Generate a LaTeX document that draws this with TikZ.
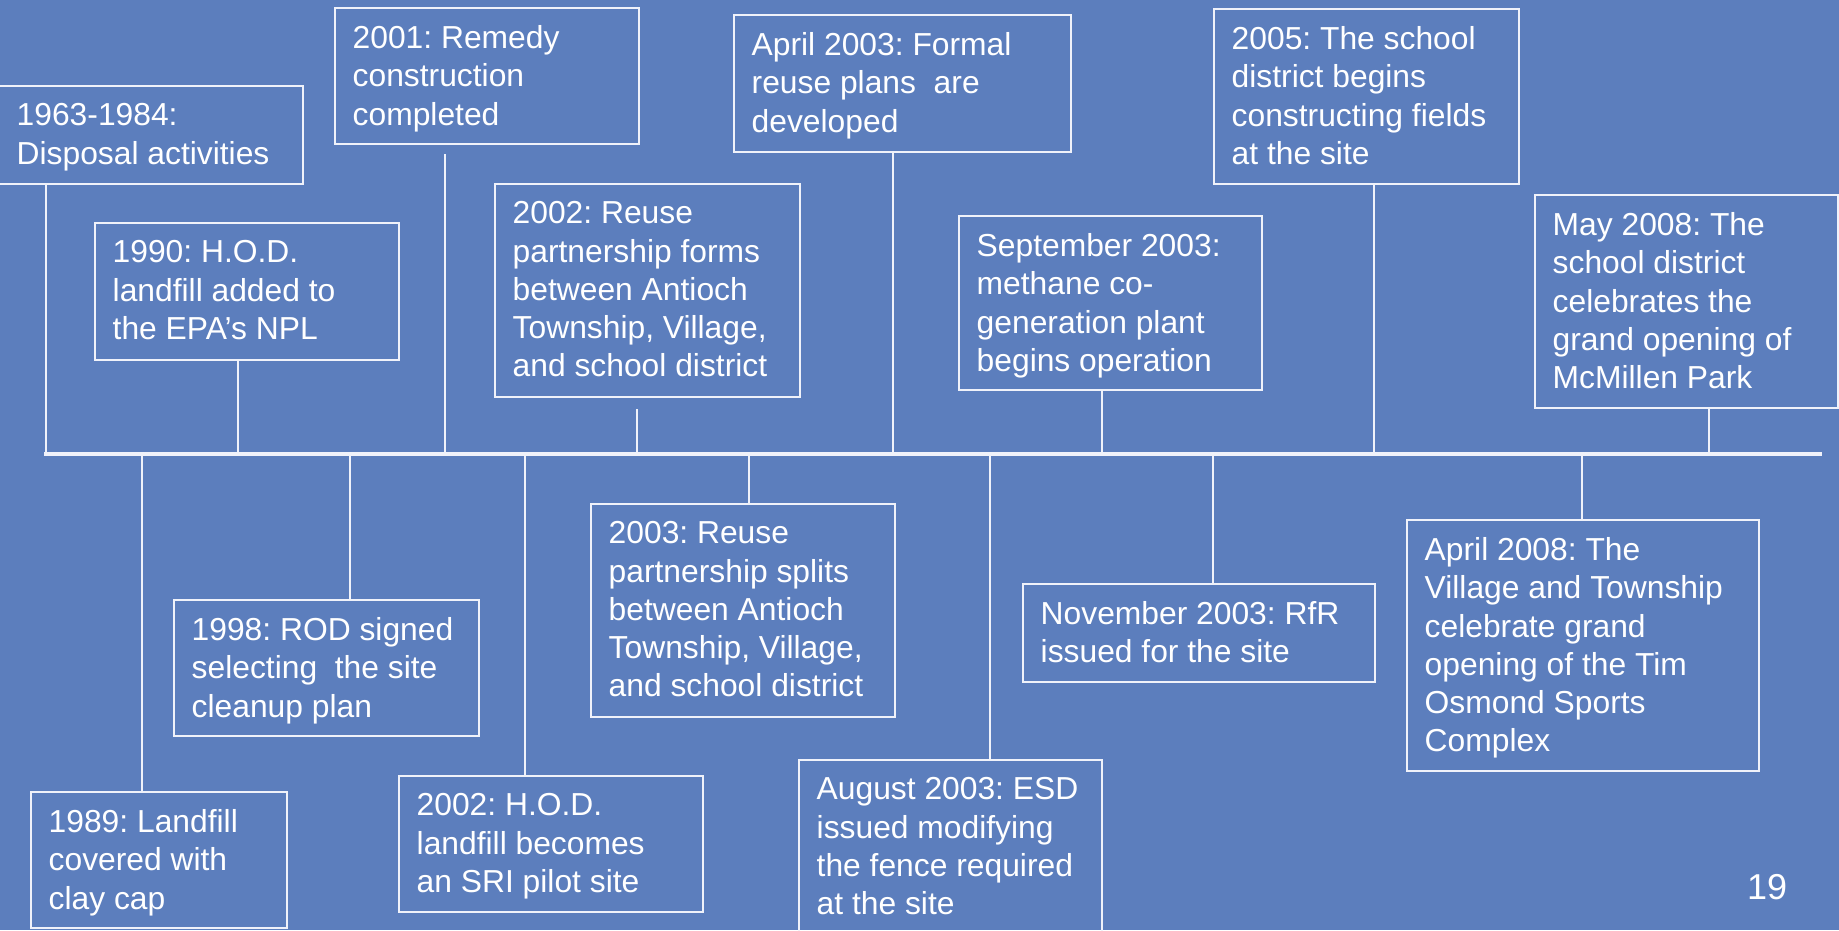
\documentclass[tikz,border=0pt]{standalone}
\usepackage{fontspec}
\setmainfont{Liberation Sans}
\usetikzlibrary{calc}
\definecolor{bg}{RGB}{92,126,189}
\definecolor{ln}{RGB}{240,242,250}
\frenchspacing
\newcommand\tlevent[6]{%
  \node[evbox, minimum width={(#4)-(#2)}, minimum height={(#5)-(#3)}] (#1) at (#2,#3) {};
  \node[evtext] (#1-t) at ($(#1.north west)+(18.5,18.5)$) {#6};}
\begin{document}
\begin{tikzpicture}[x=1pt,y=-1pt,
  evbox/.style={draw=ln, line width=2pt, anchor=north west, inner sep=0pt},
  evtext/.style={anchor=north west, inner sep=0pt, align=left, text=white,
                 font=\fontsize{31.8}{38.2}\selectfont\frenchspacing},
  conn/.style={draw=ln, line width=2pt},
  tline/.style={draw=ln, line width=4.5pt}]
\fill[bg] (0,0) rectangle (1839,930);
\useasboundingbox (0,0) rectangle (1839,930);
\clip (0,0) rectangle (1839,930);

% boxes above the line
\tlevent{A}{-2}{85}{302}{183}{1963-1984:\\Disposal activities}
\tlevent{B}{334}{7}{638}{143}{2001: Remedy\\construction\\completed}
\tlevent{C}{94}{222}{398}{359}{1990: H.O.D.\\landfill added to\\the EPA’s NPL}
\tlevent{D}{494}{183}{799}{396}{2002: Reuse\\partnership forms\\between Antioch\\Township, Village,\\and school district}
\tlevent{E}{733}{14}{1070}{151}{April 2003: Formal\\reuse plans~ are\\developed}
\tlevent{F}{958}{215}{1261}{389}{September 2003:\\methane co-\\generation plant\\begins operation}
\tlevent{G}{1213}{8}{1518}{183}{2005: The school\\district begins\\constructing fields\\at the site}
\tlevent{H}{1534}{194}{1837}{407}{May 2008: The\\school district\\celebrates the\\grand opening of\\McMillen Park}

% boxes below the line
\tlevent{I}{30}{791}{286}{927}{1989: Landfill\\covered with\\clay cap}
\tlevent{J}{173}{599}{478}{735}{1998: ROD signed\\selecting~ the site\\cleanup plan}
\tlevent{K}{398}{775}{702}{911}{2002: H.O.D.\\landfill becomes\\an SRI pilot site}
\tlevent{L}{590}{503}{894}{716}{2003: Reuse\\partnership splits\\between Antioch\\Township, Village,\\and school district}
\tlevent{M}{798}{759}{1101}{945}{August 2003: ESD\\issued modifying\\the fence required\\at the site}
\tlevent{N}{1022}{583}{1374}{681}{November 2003: RfR\\issued for the site}
\tlevent{O}{1406}{519}{1758}{770}{April 2008: The\\Village and Township\\celebrate grand\\opening of the Tim\\Osmond Sports\\Complex}

% timeline points
\coordinate (ts) at (44,454);
\coordinate (te) at (1822,454);
\coordinate (pA) at (46,454);
\coordinate (pC) at (238,454);
\coordinate (pB) at (445,454);
\coordinate (pD) at (637,454);
\coordinate (pE) at (893,454);
\coordinate (pF) at (1102,454);
\coordinate (pG) at (1374,454);
\coordinate (pH) at (1709,454);
\coordinate (pI) at (142,454);
\coordinate (pJ) at (350,454);
\coordinate (pK) at (525,454);
\coordinate (pL) at (749,454);
\coordinate (pM) at (990,454);
\coordinate (pN) at (1213,454);
\coordinate (pO) at (1582,454);

% connectors
\draw[conn] (pA) -- (pA |- A.south);
\draw[conn] (pC) -- (pC |- C.south);
\draw[conn] (pB) -- ($(pB |- B.south)+(0,9)$);
\draw[conn] (pD) -- ($(pD |- D.south)+(0,11)$);
\draw[conn] (pE) -- (pE |- E.south);
\draw[conn] (pF) -- (pF |- F.south);
\draw[conn] (pG) -- (pG |- G.south);
\draw[conn] (pH) -- (pH |- H.south);
\draw[conn] (pI) -- (pI |- I.north);
\draw[conn] (pJ) -- (pJ |- J.north);
\draw[conn] (pK) -- (pK |- K.north);
\draw[conn] (pL) -- (pL |- L.north);
\draw[conn] (pM) -- (pM |- M.north);
\draw[conn] (pN) -- (pN |- N.north);
\draw[conn] (pO) -- (pO |- O.north);

\draw[tline] (ts) -- (te);

\node[anchor=base, inner sep=0pt, text=white, font=\fontsize{36}{40}\selectfont] (pg) at (1767,899) {19};
\end{tikzpicture}
\end{document}
